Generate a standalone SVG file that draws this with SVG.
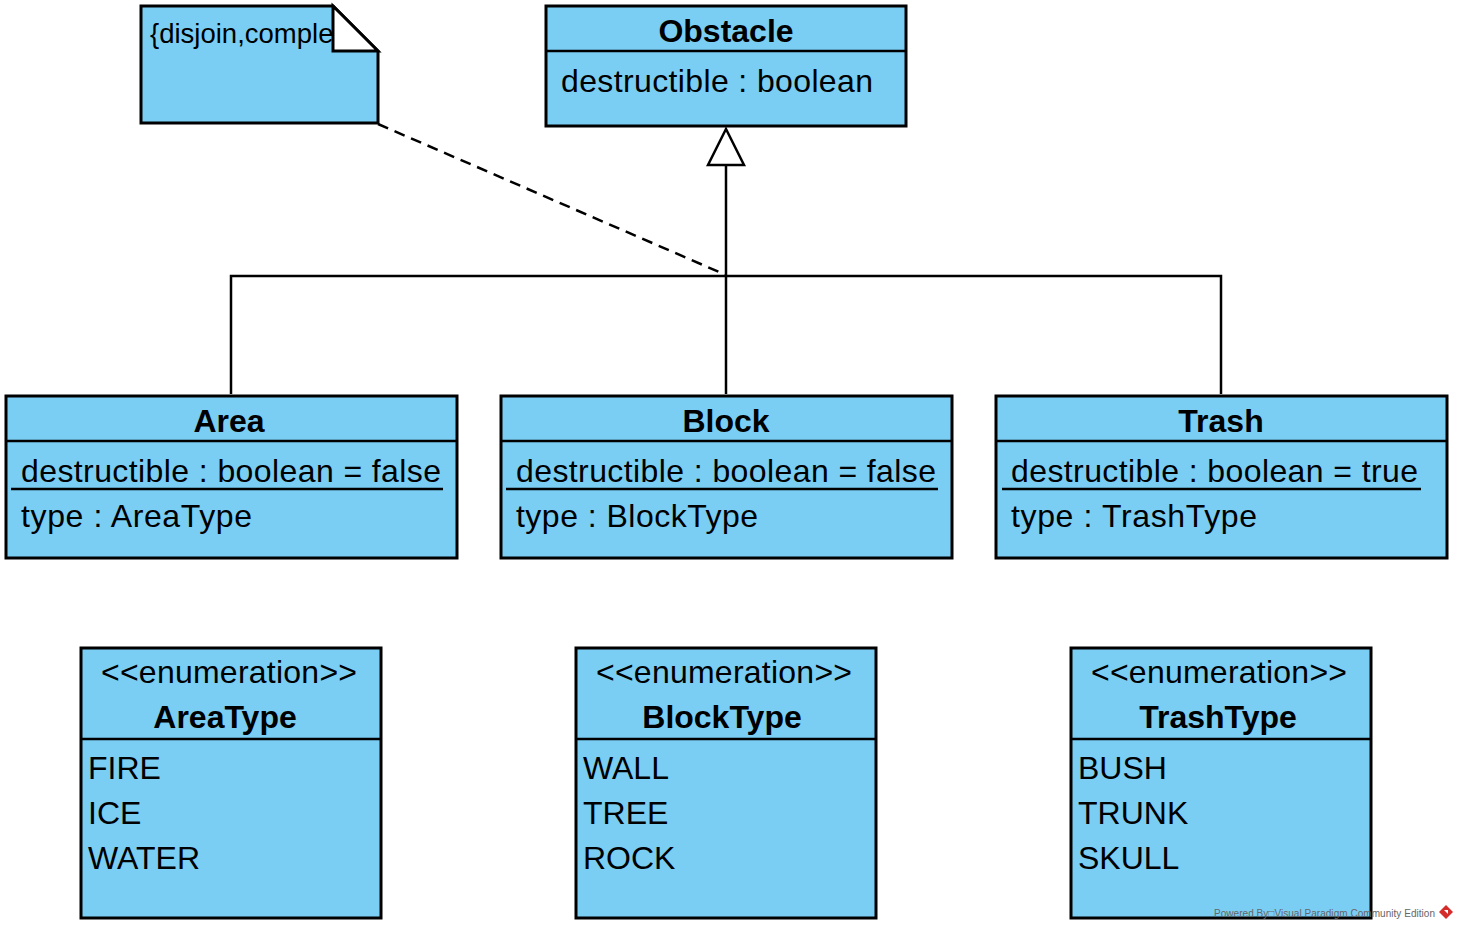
<svg xmlns="http://www.w3.org/2000/svg" width="1458" height="930" viewBox="0 0 1458 930">
<style>
.box{fill:#7acef4;stroke:#000;stroke-width:3}
.sep{stroke:#000;stroke-width:2.5;fill:none}
.t{font-family:"Liberation Sans",Arial,sans-serif;font-size:32px;fill:#000}
.b{font-weight:bold}
.c{text-anchor:middle}
.con{stroke:#000;stroke-width:2.5;fill:none}
</style>
<defs>
<clipPath id="noteclip"><rect x="141" y="6" width="192" height="117"/></clipPath>
</defs>
<rect width="1458" height="930" fill="#fff"/>

<g id="connectors">
<line class="con" x1="378" y1="124" x2="726" y2="275" stroke-dasharray="11,7"/>
<polyline class="con" points="231,394 231,276 1221,276 1221,394"/>
<line class="con" x1="726" y1="165" x2="726" y2="394"/>
<polygon points="726,129 708,165 744,165" fill="#fff" stroke="#000" stroke-width="2.5"/>
</g>

<g id="note">
<path class="box" d="M141,6 L333,6 L378,51 L378,123 L141,123 Z"/>
<text class="t" x="150" y="43" style="font-size:27.5px" clip-path="url(#noteclip)">{disjoin,complete}</text>
<path d="M333,6 L378,51 L333,51 Z" fill="#fff" stroke="#000" stroke-width="3" stroke-linejoin="miter"/>
</g>

<g id="Obstacle">
<rect class="box" x="546" y="6" width="360" height="120"/>
<line class="sep" x1="546" y1="51" x2="906" y2="51"/>
<text class="t b c" x="726" y="42">Obstacle</text>
<text class="t" x="561" y="92" textLength="312" lengthAdjust="spacing">destructible : boolean</text>
</g>

<g id="Area">
<rect class="box" x="6" y="396" width="451" height="162"/>
<line class="sep" x1="6" y1="441" x2="457" y2="441"/>
<text class="t b c" x="229" y="432">Area</text>
<text class="t" x="21" y="482" textLength="420" lengthAdjust="spacing">destructible : boolean = false</text>
<line class="sep" x1="11" y1="489" x2="443" y2="489"/>
<text class="t" x="21" y="527" textLength="231" lengthAdjust="spacing">type : AreaType</text>
</g>

<g id="Block">
<rect class="box" x="501" y="396" width="451" height="162"/>
<line class="sep" x1="501" y1="441" x2="952" y2="441"/>
<text class="t b c" x="726" y="432">Block</text>
<text class="t" x="516" y="482" textLength="420" lengthAdjust="spacing">destructible : boolean = false</text>
<line class="sep" x1="506" y1="489" x2="938" y2="489"/>
<text class="t" x="516" y="527" textLength="242" lengthAdjust="spacing">type : BlockType</text>
</g>

<g id="Trash">
<rect class="box" x="996" y="396" width="451" height="162"/>
<line class="sep" x1="996" y1="441" x2="1447" y2="441"/>
<text class="t b c" x="1221" y="432">Trash</text>
<text class="t" x="1011" y="482" textLength="407" lengthAdjust="spacing">destructible : boolean = true</text>
<line class="sep" x1="1002" y1="489" x2="1421" y2="489"/>
<text class="t" x="1011" y="527" textLength="246" lengthAdjust="spacing">type : TrashType</text>
</g>

<g id="AreaType">
<rect class="box" x="81" y="648" width="300" height="270"/>
<line class="sep" x1="81" y1="739" x2="381" y2="739"/>
<text class="t c" x="229" y="683" textLength="256" lengthAdjust="spacing">&lt;&lt;enumeration&gt;&gt;</text>
<text class="t b c" x="225" y="728">AreaType</text>
<text class="t" x="88" y="779">FIRE</text>
<text class="t" x="88" y="824">ICE</text>
<text class="t" x="88" y="869">WATER</text>
</g>

<g id="BlockType">
<rect class="box" x="576" y="648" width="300" height="270"/>
<line class="sep" x1="576" y1="739" x2="876" y2="739"/>
<text class="t c" x="724" y="683" textLength="256" lengthAdjust="spacing">&lt;&lt;enumeration&gt;&gt;</text>
<text class="t b c" x="722" y="728">BlockType</text>
<text class="t" x="583" y="779">WALL</text>
<text class="t" x="583" y="824">TREE</text>
<text class="t" x="583" y="869">ROCK</text>
</g>

<g id="TrashType">
<rect class="box" x="1071" y="648" width="300" height="270"/>
<line class="sep" x1="1071" y1="739" x2="1371" y2="739"/>
<text class="t c" x="1219" y="683" textLength="256" lengthAdjust="spacing">&lt;&lt;enumeration&gt;&gt;</text>
<text class="t b c" x="1218" y="728">TrashType</text>
<text class="t" x="1078" y="779">BUSH</text>
<text class="t" x="1078" y="824">TRUNK</text>
<text class="t" x="1078" y="869">SKULL</text>
</g>

<g id="watermark">
<text x="1214" y="917" font-family="'Liberation Sans',Arial,sans-serif" font-size="10" fill="#666" textLength="221" lengthAdjust="spacing">Powered By□Visual Paradigm Community Edition</text>
<path d="M1446,905 L1453,912 L1446,919 L1439,912 Z" fill="#d42b2b"/>
<path d="M1444,910 L1448,910 L1448,914 Z" fill="#fff"/>
</g>
</svg>
